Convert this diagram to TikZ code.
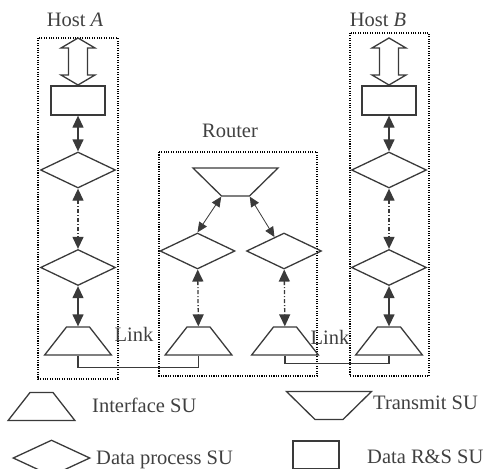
\documentclass[tikz,border=0pt]{standalone}
\usepackage{fontspec}
\setmainfont{Liberation Serif}
\usepackage{tikz}
\usetikzlibrary{shapes.geometric,arrows.meta,calc}
\definecolor{suline}{HTML}{3A3A3A}
\definecolor{sutext}{HTML}{404040}

\tikzset{
	su/.style={draw=suline, line width=1.3pt},
	iface/.style={su, trapezium, trapezium left angle=52, trapezium right angle=52, inner xsep=11.5pt, inner ysep=14pt},
	transmit/.style={su, trapezium, trapezium left angle=135.5, trapezium right angle=135.5, inner xsep=14pt, inner ysep=14pt},
	dproc/.style={su, diamond, inner sep=0pt, minimum width=75pt, minimum height=36pt},
	rs/.style={su, rectangle, inner sep=0pt, minimum width=54pt, minimum height=29pt},
	grp/.style={draw=black, line width=1.1pt, dash pattern=on 1.1pt off 1.3pt},
	biarrow/.style={draw=suline, line width=1.3pt, {Triangle[length=12pt,width=11pt]}-{Triangle[length=12pt,width=11pt]}},
	thinarrow/.style={draw=suline, line width=0.8pt, {Triangle[length=10pt,width=9pt]}-{Triangle[length=10pt,width=9pt]}},
	dashdot/.style={dash pattern=on 4pt off 2pt on 1pt off 2pt},
	lbl/.style={text=sutext, font=\fontsize{20.5}{24}\selectfont, inner sep=0pt}
}

\begin{document}
\begin{tikzpicture}[x=1pt, y=-1pt]
	\useasboundingbox (0,0) rectangle (489,468);
	% group frames
	\draw[grp] (38,38) rectangle (118,379); %host A
	\draw[grp] (350,33) rectangle (429,376); %host B
	\draw[grp] (159,152) rectangle (317,376); %router
	\node[lbl] (hostA) at (75,20) {Host \textit{A}};
	\node[lbl] (hostB) at (378,20) {Host \textit{B}};
	\node[lbl] (router) at (230,131) {Router};
	% host columns
	\foreach \h/\x in {A/78, B/389} {
		\draw[su, shift={(\x,0)}] (0,38) -- (17,48) -- (9.5,48) -- (9.5,75) -- (17,75) -- (0,85)
			-- (-17,75) -- (-9.5,75) -- (-9.5,48) -- (-17,48) -- cycle;
		\node[rs] (rs\h) at (\x,100.5) {};
		\node[dproc] (dp\h1) at (\x,170) {};
		\node[dproc] (dp\h2) at (\x,267.5) {};
		\node[iface] (if\h) at (\x,341) {};
		\draw[biarrow] (rs\h) -- (dp\h1);
		\draw[biarrow, dashdot] (dp\h1) -- (dp\h2);
		\draw[biarrow] (dp\h2) -- (if\h);
	}
	% router
	\node[transmit] (tr) at (235.5,182) {};
	\node[dproc] (dpR1) at (197.5,251) {};
	\node[dproc] (dpR2) at (284,251) {};
	\node[iface] (ifR1) at (198.5,341) {};
	\node[iface] (ifR2) at (285,341) {};
	\draw[thinarrow] (tr.bottom left corner) -- (dpR1.north);
	\draw[thinarrow] (tr.bottom right corner) -- ($(dpR2.north)!.25!(dpR2.west)$);
	\draw[biarrow, dashdot] (dpR1) -- (ifR1);
	\draw[biarrow, dashdot] (dpR2) -- (ifR2);
	% links
	\draw[su] (ifA.south) -- ++(0,12) -| (ifR1.south);
	\draw[su] (ifR2.south) -- ++(0,8) -| (ifB.south);
	\node[lbl] (linkA) at (134,334) {Link};
	\node[lbl] (linkB) at (330,337) {Link};
	% legend
	\node[iface] (lgIf) at (41.5,406.5) {};
	\node[lbl, anchor=west] (lgIfT) at (92,405) {Interface SU};
	\node[transmit] (lgTr) at (329,405.5) {};
	\node[lbl, anchor=west] (lgTrT) at (373,403) {Transmit SU};
	\node[dproc, minimum width=77pt] (lgDp) at (51.5,458) {};
	\node[lbl, anchor=west] (lgDpT) at (96,460) {Data process SU};
	\node[rs, minimum width=46pt, minimum height=28pt] (lgRs) at (316,455) {};
	\node[lbl, anchor=west] (lgRsT) at (367,457) {Data R\&S SU};
\end{tikzpicture}
\end{document}
